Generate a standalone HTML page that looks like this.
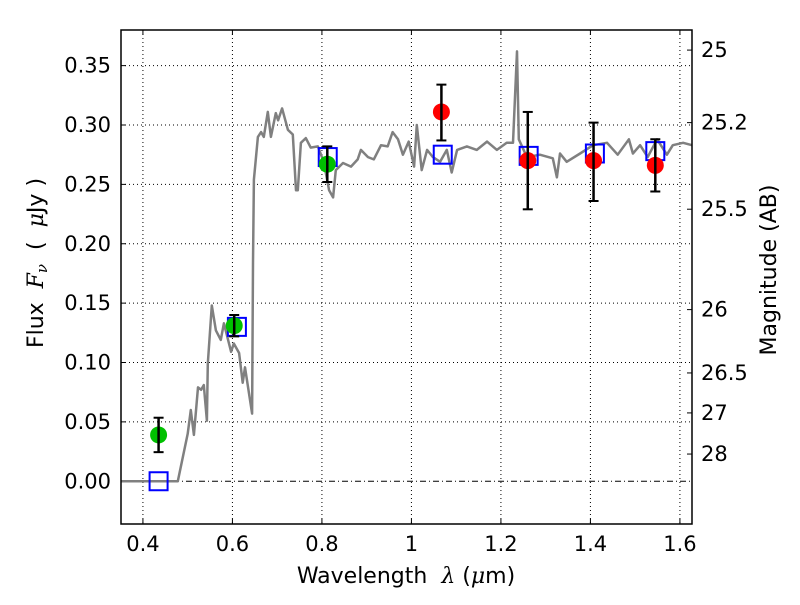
<!DOCTYPE html>
<html><head><meta charset="utf-8"><style>
body{margin:0;background:#fff;}
svg text{font-family:"DejaVu Sans","Liberation Sans",sans-serif;fill:#000;white-space:pre;}
</style></head><body>
<svg id="chart" width="800" height="600" xmlns="http://www.w3.org/2000/svg"></svg>
<script>
const xTicks=[0.4,0.6,0.8,1,1.2,1.4,1.6];
const xTickLabels=["0.4","0.6","0.8","1","1.2","1.4","1.6"];
const yTicks=[0,0.05,0.1,0.15,0.2,0.25,0.3,0.35];
const yTickLabels=["0.00","0.05","0.10","0.15","0.20","0.25","0.30","0.35"];
const magTicks=[25,25.2,25.5,26,26.5,27,28];
const magTickLabels=["25","25.2","25.5","26","26.5","27","28"];
const sedWave=[0.351,0.478,0.50,0.507,0.514,0.523,0.530,0.536,0.543,0.545,0.554,0.563,0.574,0.581,0.597,0.603,0.615,0.623,0.628,0.644,0.646,0.648,0.657,0.664,0.670,0.679,0.686,0.697,0.702,0.711,0.724,0.735,0.742,0.746,0.753,0.764,0.775,0.791,0.804,0.816,0.825,0.831,0.847,0.865,0.880,0.887,0.903,0.916,0.932,0.947,0.958,0.970,0.981,0.994,1.006,1.012,1.023,1.035,1.048,1.064,1.079,1.090,1.102,1.124,1.146,1.169,1.191,1.213,1.227,1.236,1.240,1.258,1.287,1.316,1.325,1.332,1.347,1.377,1.406,1.437,1.461,1.486,1.495,1.511,1.528,1.549,1.571,1.584,1.607,1.627];
const sedFlux=[0,0,0.040,0.060,0.039,0.079,0.077,0.081,0.051,0.099,0.148,0.127,0.119,0.133,0.109,0.116,0.108,0.083,0.096,0.057,0.184,0.254,0.290,0.294,0.290,0.311,0.290,0.310,0.304,0.314,0.296,0.292,0.245,0.245,0.285,0.289,0.281,0.282,0.269,0.245,0.239,0.262,0.268,0.265,0.271,0.279,0.273,0.271,0.283,0.282,0.294,0.288,0.275,0.286,0.265,0.300,0.262,0.279,0.273,0.269,0.279,0.260,0.279,0.282,0.279,0.286,0.279,0.285,0.285,0.362,0.288,0.273,0.275,0.272,0.256,0.276,0.269,0.276,0.283,0.285,0.275,0.288,0.276,0.283,0.273,0.288,0.275,0.283,0.285,0.283];
const greenWave=[0.435,0.604,0.812];
const greenFlux=[0.039,0.131,0.267];
const greenErr=[0.0145,0.009,0.015];
const redWave=[1.067,1.26,1.407,1.545];
const redFlux=[0.311,0.270,0.270,0.266];
const redErrLo=[0.024,0.041,0.034,0.022];
const redErrHi=[0.023,0.041,0.032,0.022];
const modelWave=[0.435,0.61,0.813,1.07,1.262,1.41,1.545];
const modelFlux=[0.0,0.13,0.273,0.275,0.274,0.276,0.278];

const L=121,R=692,T=30,B=524;
const x0=0.351,x1=1.627,y0=-0.036,y1=0.380;
const sx=v=>L+(v-x0)/(x1-x0)*(R-L);
const sy=v=>B-(v-y0)/(y1-y0)*(B-T);
const NS="http://www.w3.org/2000/svg";
const svg=document.getElementById('chart');
function mk(tag,attrs,parent){const e=document.createElementNS(NS,tag);for(const k in attrs)e.setAttribute(k,attrs[k]);(parent||svg).appendChild(e);return e;}

xTicks.forEach((t,i)=>{
 const g=mk('line',{x1:sx(t),x2:sx(t),y1:T,y2:B,stroke:'#000','stroke-width':1,'stroke-dasharray':'1,3'});
 
 
 mk('line',{x1:sx(t),x2:sx(t),y1:B,y2:B-5,stroke:'#000'});
 mk('line',{x1:sx(t),x2:sx(t),y1:T,y2:T+5,stroke:'#000'});
 const tx=mk('text',{x:sx(t),y:B+27,'font-size':21,'text-anchor':'middle'});
 tx.textContent=xTickLabels[i];
 
 
});
yTicks.forEach((t,i)=>{
 const g=mk('line',{x1:L,x2:R,y1:sy(t),y2:sy(t),stroke:'#000','stroke-width':1,'stroke-dasharray':t===0?'6,3,1,3':'1,3'});
 
 
 mk('line',{x1:L,x2:L+5,y1:sy(t),y2:sy(t),stroke:'#000'});
 const tx=mk('text',{x:L-10,y:sy(t)+7,'font-size':21,'text-anchor':'end'});
 tx.textContent=yTickLabels[i];
 
 
});
magTicks.forEach((m,i)=>{
 const f=Math.pow(10,(23.9-m)/2.5);
 const y=sy(f);
 mk('line',{x1:R-5,x2:R,y1:y,y2:y,stroke:'#000'});
 const tx=mk('text',{x:R+9,y:y+7,'font-size':21});
 tx.textContent=magTickLabels[i];
 
 
});

let d='';
sedWave.forEach((w,i)=>{d+=(i?'L':'M')+sx(w).toFixed(1)+','+sy(sedFlux[i]).toFixed(1);});
const sed=mk('path',{d:d,fill:'none',stroke:'#808080','stroke-width':2.5,'stroke-linejoin':'round'});



modelWave.forEach((w,i)=>{
 const r=mk('rect',{x:sx(w)-9,y:sy(modelFlux[i])-9,width:18,height:18,fill:'none',stroke:'#0000ff','stroke-width':2});
 
 
});
function errbar(x,lo,hi){
 mk('line',{x1:x,x2:x,y1:sy(lo),y2:sy(hi),stroke:'#000','stroke-width':2.5});
 mk('line',{x1:x-5,x2:x+5,y1:sy(lo),y2:sy(lo),stroke:'#000','stroke-width':2});
 mk('line',{x1:x-5,x2:x+5,y1:sy(hi),y2:sy(hi),stroke:'#000','stroke-width':2});
}
greenWave.forEach((w,i)=>{
 const c=mk('circle',{cx:sx(w),cy:sy(greenFlux[i]),r:8.5,fill:'#00c000'});
 
 
 errbar(sx(w),greenFlux[i]-greenErr[i],greenFlux[i]+greenErr[i]);
});
redWave.forEach((w,i)=>{
 const c=mk('circle',{cx:sx(w),cy:sy(redFlux[i]),r:8.5,fill:'#ff0000'});
 
 
 errbar(sx(w),redFlux[i]-redErrLo[i],redFlux[i]+redErrHi[i]);
});

const fr=mk('rect',{x:L,y:T,width:R-L,height:B-T,fill:'none',stroke:'#000','stroke-width':1.5});



const xt=mk('text',{x:406,y:583,'font-size':22,'text-anchor':'middle'});
xt.innerHTML='Wavelength  <tspan font-style="italic" font-family="DejaVu Serif, serif">λ</tspan> (<tspan font-style="italic" font-family="DejaVu Serif, serif">μ</tspan>m)';


const yt=mk('text',{x:43,y:263,'font-size':22,'text-anchor':'middle',transform:'rotate(-90 43 263)'});
yt.innerHTML='Flux  <tspan font-style="italic" font-family="DejaVu Serif, serif">F</tspan><tspan font-style="italic" font-family="DejaVu Serif, serif" font-size="15" dy="4">ν</tspan><tspan dy="-4">  (  </tspan><tspan font-style="italic" font-family="DejaVu Serif, serif">μ</tspan>Jy )';


const mt=mk('text',{x:776,y:270,'font-size':22,'text-anchor':'middle',transform:'rotate(-90 776 270)'});
mt.textContent='Magnitude (AB)';


</script>
</body></html>
